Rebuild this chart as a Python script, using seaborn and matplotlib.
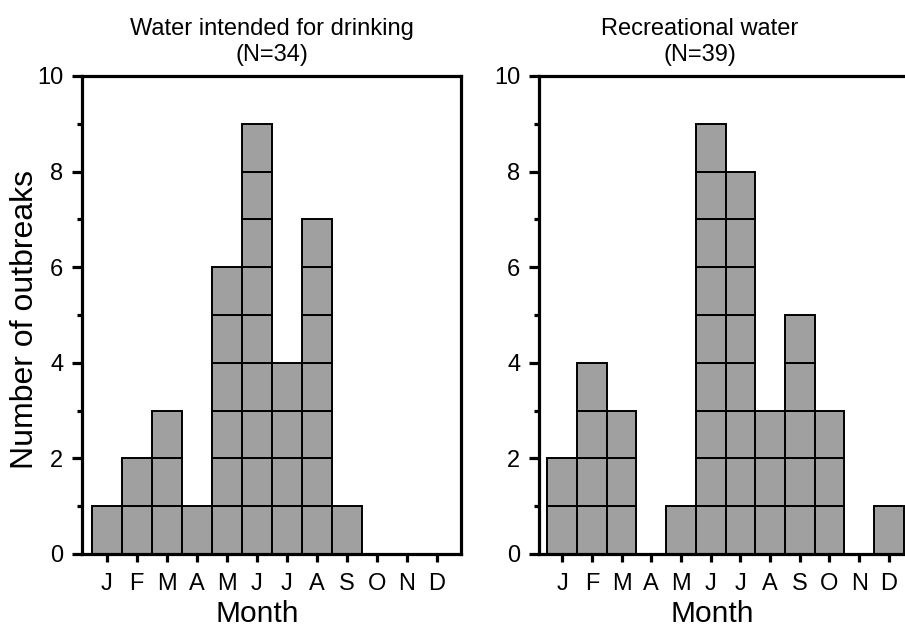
import numpy as np
import pandas as pd
import matplotlib
matplotlib.use("Agg")
import matplotlib.pyplot as plt
import seaborn as sns
from matplotlib.ticker import MultipleLocator

months = ["J", "F", "M", "A", "M", "J", "J", "A", "S", "O", "N", "D"]
drinking = [1, 2, 3, 1, 6, 9, 4, 7, 1, 0, 0, 0]
recreational = [2, 4, 3, 0, 1, 9, 8, 3, 5, 3, 0, 1]
titles = ["Water intended for drinking\n(N=34)", "Recreational water\n(N=39)"]

sns.set_theme(style="ticks")
plt.rcParams["font.family"] = ["Liberation Sans", "DejaVu Sans"]


def units(counts):
    rows = []
    for m, c in enumerate(counts):
        for k in range(c):
            rows.append({"month": m, "level": f"L{k}"})
    return pd.DataFrame(rows)


fig = plt.figure(figsize=(9.05, 6.3), dpi=100)
ax1 = fig.add_axes([82 / 905, 76 / 630, 379 / 905, 478 / 630])
ax2 = fig.add_axes([539 / 905, 76 / 630, 379 / 905, 478 / 630])

specs = [
    (ax1, drinking, titles[0], (-0.82, 11.81), 0.501, 0.462),
    (ax2, recreational, titles[1], (-0.78, 11.98), 0.425, 0.456),
]

for ax, counts, title, xlim, tx, mx in specs:
    df = units(counts)
    levels = [f"L{k}" for k in range(max(counts))]
    sns.histplot(data=df, x="month", hue="level", hue_order=levels,
                 multiple="stack", discrete=True, shrink=1,
                 palette=["#a0a0a0"] * len(levels), edgecolor="black",
                 linewidth=1.4, alpha=1, legend=False, ax=ax)
    ax.set_xlim(*xlim)
    ax.set_ylim(0, 10)
    ax.set_xticks(range(12))
    ax.set_xticklabels(months)
    ax.yaxis.set_major_locator(MultipleLocator(2))
    ax.yaxis.set_minor_locator(MultipleLocator(1))
    ax.tick_params(axis="both", which="major", direction="out", width=2.3,
                   color="black", labelsize=17, labelcolor="black")
    ax.tick_params(axis="x", length=6, pad=8)
    ax.tick_params(axis="y", length=7.5, pad=6)
    ax.tick_params(axis="y", which="minor", direction="out", width=2.3,
                   length=3.6, color="black")
    for s in ax.spines.values():
        s.set_linewidth(2.3)
        s.set_color("black")
    ax.set_xlabel("Month", fontsize=21.5, color="black")
    ax.xaxis.set_label_coords(mx, -0.097)
    ax.set_ylabel("")
    ax.set_title(title, fontsize=17, color="black", pad=11, x=tx)
    ax.set_facecolor("white")

ax1.set_ylabel("Number of outbreaks", fontsize=23, color="black")
ax1.yaxis.set_label_coords(-0.11, 0.49)

fig.savefig("out.png", dpi=100, facecolor="white")
